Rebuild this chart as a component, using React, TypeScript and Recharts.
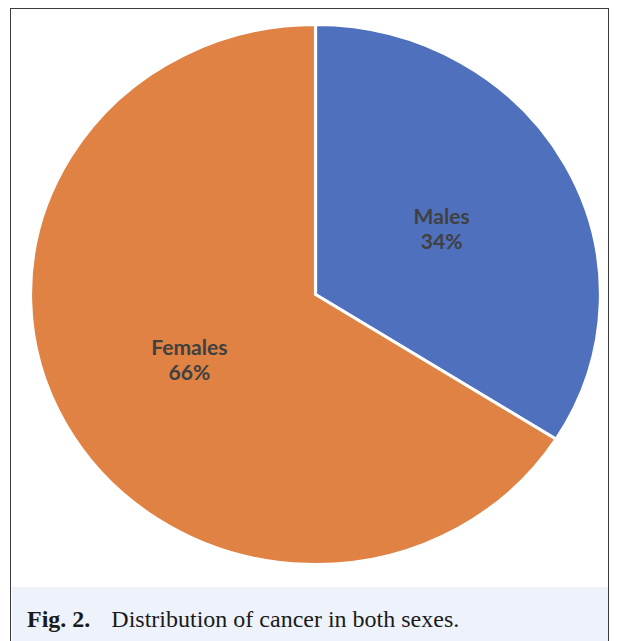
import React from "react";
import { PieChart, Pie, Cell } from "recharts";

const categories = ["Males", "Females"];
const values = [34, 66];
const colors = ["#4f70bd", "#df8244"];

const data = categories.map((name, i) => ({ name, value: values[i] }));

const RAD = Math.PI / 180;

const renderLabel = (props: any) => {
  const { cx, cy, midAngle, outerRadius, name, percent } = props;
  const r = outerRadius * 0.505;
  const x = cx + r * Math.cos(-midAngle * RAD);
  const y = cy + r * Math.sin(-midAngle * RAD);
  return (
    <text
      x={x}
      textAnchor="middle"
      fill="#404040"
      fontFamily="Lato, 'Noto Sans', sans-serif"
      fontWeight={700}
      fontSize={20}
    >
      <tspan x={x} y={y - 5}>{name}</tspan>
      <tspan x={x} y={y + 20}>{`${Math.round(percent * 100)}%`}</tspan>
    </text>
  );
};

export default function App() {
  return (
    <div
      style={{
        position: "absolute",
        left: 0,
        top: 0,
        width: 622,
        height: 641,
        overflow: "hidden",
        background: "#ffffff",
      }}
    >
      <div
        style={{
          position: "absolute",
          left: 10,
          top: 8,
          width: 599,
          height: 650,
          border: "1.5px solid #3a3a3a",
          boxSizing: "border-box",
        }}
      />
      <div
        style={{
          position: "absolute",
          left: 45,
          top: 24,
          width: 541,
          height: 541,
          transform: "scaleX(1.0555)",
          transformOrigin: "center center",
        }}
      >
        <PieChart width={541} height={541} margin={{ top: 0, right: 0, bottom: 0, left: 0 }}>
          <Pie
            data={data}
            dataKey="value"
            nameKey="name"
            cx="50%"
            cy="50%"
            outerRadius={270}
            startAngle={90}
            endAngle={-270}
            stroke="#ffffff"
            strokeWidth={3}
            labelLine={false}
            label={renderLabel}
            isAnimationActive={false}
          >
            {data.map((d, i) => (
              <Cell key={d.name} fill={colors[i]} />
            ))}
          </Pie>
        </PieChart>
      </div>
      <div
        style={{
          position: "absolute",
          left: 11.5,
          top: 587,
          width: 596,
          height: 60,
          background: "#eef2fa",
        }}
      />
      <div
        style={{
          position: "absolute",
          left: 27,
          top: 605,
          fontFamily: "'Liberation Serif', 'DejaVu Serif', serif",
          fontSize: 24,
          color: "#1a1a1a",
          whiteSpace: "nowrap",
          lineHeight: "28px",
        }}
      >
        <span style={{ fontWeight: 700 }}>Fig. 2.</span>
        <span style={{ marginLeft: 21 }}>Distribution of cancer in both sexes.</span>
      </div>
    </div>
  );
}
